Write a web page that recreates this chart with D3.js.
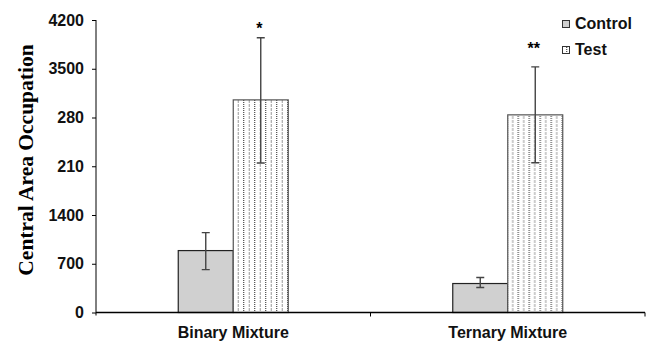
<!DOCTYPE html>
<html>
<head>
<meta charset="utf-8">
<script src="https://cdn.jsdelivr.net/npm/d3@7"></script>
<style>
  body { margin: 0; background: #fff; }
  svg { display: block; }
</style>
</head>
<body>
<div id="chart"></div>
<script>
// data
const categories = ["Binary Mixture", "Ternary Mixture"];
const series = ["Control", "Test"];
const means = [[889, 3053], [416, 2838]];
const errLow = [[616, 2146], [358, 2150]];
const errHigh = [[1147, 3946], [502, 3527]];
const stars = [["", "*"], ["", "**"]];
const starLevel = [[0, 4006], [0, 3705]]; // baseline of the significance marks, in data units
// tick labels exactly as printed (the original has typos)
const tickValues = [0, 700, 1400, 2100, 2800, 3500, 4200];
const tickLabels = ["0", "700", "1400", "210", "280", "3500", "4200"];

const config = {
    width: 652,
    height: 343,
    margin: { top: 20, left: 96, bottom: 30, right: 7 },
    barW: 55,
    axisFont: "Liberation Sans, Arial, sans-serif"
};

const svg = d3.select("#chart").append("svg")
    .attr("width", config.width)
    .attr("height", config.height);

const defs = svg.append("defs");
const pat = defs.append("pattern")
    .attr("id", "vdots")
    .attr("patternUnits", "userSpaceOnUse")
    .attr("width", 11).attr("height", 4)
    .attr("x", 233);
pat.append("rect").attr("width", 11).attr("height", 4).attr("fill", "#fff");
pat.append("line").attr("x1", 2.75).attr("x2", 2.75).attr("y1", 0).attr("y2", 4)
    .attr("stroke", "#222").attr("stroke-width", 1).attr("stroke-dasharray", "1,1");
pat.append("line").attr("x1", 8.25).attr("x2", 8.25).attr("y1", 0).attr("y2", 4)
    .attr("stroke", "#999").attr("stroke-width", 1).attr("stroke-dasharray", "3,1");

const x0 = d3.scaleBand()
    .domain(categories)
    .range([config.margin.left, config.width - config.margin.right]);
const x1 = d3.scaleBand()
    .domain(series)
    .range([x0.bandwidth() / 2 - config.barW, x0.bandwidth() / 2 + config.barW]);
const y = d3.scaleLinear()
    .domain([0, 4200])
    .range([config.height - config.margin.bottom - 0.5, config.margin.top]);

// y axis
const g_axisY = svg.append("g")
    .attr("transform", `translate(${config.margin.left}, 0)`)
    .call(d3.axisLeft(y).tickValues(tickValues).tickSize(4).tickPadding(8)
        .tickFormat((d, i) => tickLabels[i]));
g_axisY.select(".domain").attr("d", `M0,${y(4200)}V${y(0) + 3}`).attr("stroke", "#000");
g_axisY.selectAll("text")
    .attr("font-family", config.axisFont)
    .attr("font-weight", "bold")
    .attr("font-size", 16)
    .attr("fill", "#111");

// bars
const groups = svg.append("g").selectAll("g")
    .data(categories)
    .join("g")
    .attr("transform", d => `translate(${x0(d)}, 0)`);

groups.selectAll("rect")
    .data((d, i) => series.map((s, j) => ({ s, v: means[i][j] })))
    .join("rect")
    .attr("x", d => x1(d.s))
    .attr("y", d => y(d.v))
    .attr("width", x1.bandwidth())
    .attr("height", d => y(0) - y(d.v))
    .attr("fill", d => d.s === "Control" ? "#d0d0d0" : "url(#vdots)")
    .attr("stroke", d => d.s === "Control" ? "#222" : "#555")
    .attr("stroke-width", 1.2);

// error bars
const errData = (d, i) => series.map((s, j) => ({
    s, lo: errLow[i][j], hi: errHigh[i][j], star: stars[i][j], sl: starLevel[i][j]
}));
groups.selectAll("path.err")
    .data(errData)
    .join("path")
    .attr("class", "err")
    .attr("d", d => {
        const cx = x1(d.s) + x1.bandwidth() / 2;
        return `M${cx},${y(d.hi)}V${y(d.lo)}M${cx - 4},${y(d.hi)}H${cx + 4}M${cx - 4},${y(d.lo)}H${cx + 4}`;
    })
    .attr("fill", "none")
    .attr("stroke", "#444")
    .attr("stroke-width", 1.4);

groups.selectAll("text.star")
    .data(errData)
    .join("text")
    .attr("class", "star")
    .attr("x", d => x1(d.s) + x1.bandwidth() / 2 - 1.5)
    .attr("y", d => y(d.sl))
    .attr("text-anchor", "middle")
    .attr("font-family", config.axisFont)
    .attr("font-weight", "bold")
    .attr("font-size", 16)
    .text(d => d.star);

// x axis
const g_axisX = svg.append("g")
    .attr("transform", `translate(0, ${y(0)})`);
g_axisX.append("path")
    .attr("d", `M${config.margin.left},0H${x0.range()[1]}`)
    .attr("stroke", "#000").attr("stroke-width", 1.3);
g_axisX.selectAll("line.tick")
    .data(categories)
    .join("line")
    .attr("class", "tick")
    .attr("x1", d => x0(d) + x0.bandwidth()).attr("x2", d => x0(d) + x0.bandwidth())
    .attr("y1", 0).attr("y2", 4)
    .attr("stroke", "#000");
g_axisX.selectAll("text")
    .data(categories)
    .join("text")
    .attr("x", d => x0(d) + x0.bandwidth() / 2)
    .attr("y", 25.5)
    .attr("text-anchor", "middle")
    .attr("font-family", config.axisFont)
    .attr("font-weight", "bold")
    .attr("font-size", 16)
    .attr("fill", "#111")
    .text(d => d);

// y label
svg.append("text")
    .attr("transform", `translate(33, 160) rotate(-90)`)
    .attr("text-anchor", "middle")
    .attr("font-family", "Liberation Serif, Times New Roman, serif")
    .attr("font-weight", "bold")
    .attr("font-size", 21.5)
    .text("Central Area Occupation");

// legend
const legend = svg.append("g").attr("transform", "translate(562, 0)");
const li = legend.selectAll("g")
    .data(series)
    .join("g")
    .attr("transform", (d, i) => `translate(0, ${29 + i * 26})`);
li.append("rect")
    .attr("x", 0.5).attr("y", -8.5)
    .attr("width", 7).attr("height", 7)
    .attr("fill", d => d === "Control" ? "#d0d0d0" : "url(#vdots)")
    .attr("stroke", "#333");
li.append("text")
    .attr("x", 13)
    .attr("y", 0)
    .attr("font-family", config.axisFont)
    .attr("font-weight", "bold")
    .attr("font-size", 16)
    .attr("fill", "#111")
    .text(d => d);
</script>
</body>
</html>
